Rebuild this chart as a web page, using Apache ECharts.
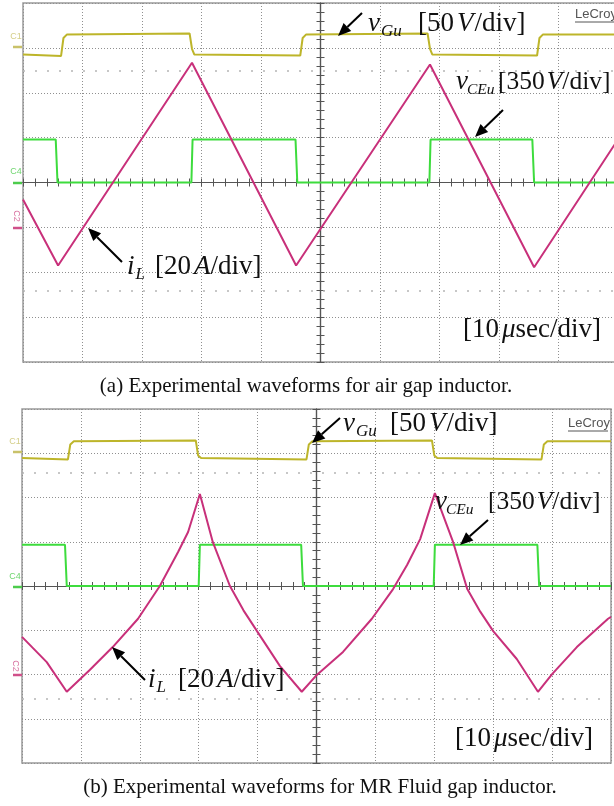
<!DOCTYPE html>
<html><head><meta charset="utf-8">
<script src="https://cdn.jsdelivr.net/npm/echarts@6/dist/echarts.min.js"></script>
<style>html,body{margin:0;padding:0;background:#fff}#c{width:614px;height:806px}</style>
</head><body><div id="c"></div>
<script>
// Time axis: microseconds relative to screen centre (10 µs/div); vertical: scope divisions.
const timeRange = [-50, 50];
const divRange = [-4, 4];

// Panel (a): air gap inductor
const vGuA = [[-50,2.85],[-43.6,2.82],[-43.2,3.22],[-42.6,3.30],[-22.0,3.32],[-21.6,2.98],[-21.2,2.85],[-3.4,2.83],[-3.0,3.22],[-2.4,3.30],[18.0,3.32],[18.4,2.98],[18.8,2.85],[36.4,2.83],[36.8,3.22],[37.4,3.30],[50,3.30]];
const vCEuA = [[-50,0.96],[-44.5,0.96],[-44.2,0],[-21.7,0],[-21.5,0.96],[-4.2,0.96],[-3.9,0],[18.3,0],[18.5,0.96],[35.6,0.96],[35.9,0],[50,0]];
const iLA = [[-50,-0.38],[-44.1,-1.85],[-21.6,2.67],[-4.1,-1.85],[18.4,2.63],[35.9,-1.89],[50,0.96]];

// Panel (b): MR fluid gap inductor
const vGuB = [[-50,2.89],[-42.2,2.86],[-41.8,3.20],[-41.2,3.27],[-20.5,3.29],[-20.1,2.95],[-19.6,2.89],[-1.7,2.86],[-1.3,3.20],[-0.7,3.27],[19.6,3.29],[20.0,2.95],[20.5,2.89],[38.2,2.86],[38.6,3.20],[39.2,3.27],[50,3.27]];
const vCEuB = [[-50,0.93],[-42.7,0.93],[-42.4,0],[-20.0,0],[-19.8,0.93],[-2.6,0.93],[-2.3,0],[19.9,0],[20.1,0.93],[37.5,0.93],[37.8,0],[50,0]];
const iLB = [[-50,-1.15],[-45.8,-1.72],[-42.4,-2.39],[-38.5,-1.90],[-34.6,-1.38],[-30.3,-0.74],[-26.6,0],[-23.5,0.77],[-21.8,1.22],[-19.8,2.08],[-17.6,0.99],[-14.7,0],[-12.4,-0.55],[-10.1,-1.02],[-6.2,-1.81],[-2.5,-2.39],[-0.1,-2.03],[4.5,-1.49],[9.4,-0.74],[13.0,-0.07],[15.4,0.48],[17.6,1.06],[20.1,2.10],[23.2,0.99],[25.6,-0.07],[27.8,-0.58],[30.0,-1.02],[34.0,-1.65],[37.6,-2.39],[40.0,-1.99],[44.2,-1.38],[49.5,-0.74],[50,-0.70]];

const captionA = '(a) Experimental waveforms for air gap inductor.';
const captionB = '(b) Experimental waveforms for MR Fluid gap inductor.';

const YEL = '#bdb52a', GRN = '#3ddc3d', PNK = '#c8307a';
const SERIF = '"Liberation Serif","Times New Roman",serif';

const chart = echarts.init(document.getElementById('c'), null, {renderer:'canvas'});

function axesFor(g) {
  const tick = {show:true, length:4, lineStyle:{color:'#555', width:1}};
  const minor = {show:true, splitNumber:5, length:4, lineStyle:{color:'#555', width:1}};
  const split = {show:true, lineStyle:{color:'#8f8f8f', width:1, type:[1,2]}};
  const line = {show:true, onZero:true, lineStyle:{color:'#555', width:1.2}};
  return {
    x: [
      {gridIndex:g, type:'value', min:timeRange[0], max:timeRange[1], interval:10, position:'bottom',
       axisLine:line, axisTick:tick, minorTick:minor, axisLabel:{show:false}, splitLine:split},
      {gridIndex:g, type:'value', min:timeRange[0], max:timeRange[1], interval:10, position:'top',
       axisLine:line, axisTick:tick, minorTick:minor, axisLabel:{show:false}, splitLine:{show:false}}
    ],
    y: [
      {gridIndex:g, type:'value', min:divRange[0], max:divRange[1], interval:1, position:'left',
       axisLine:line, axisTick:tick, minorTick:minor, axisLabel:{show:false}, splitLine:split},
      {gridIndex:g, type:'value', min:divRange[0], max:divRange[1], interval:1, position:'right',
       axisLine:line, axisTick:tick, minorTick:minor, axisLabel:{show:false}, splitLine:{show:false}}
    ]
  };
}
const ax0 = axesFor(0), ax1 = axesFor(1);

function trace(data, color, xi, yi, z, extra) {
  return Object.assign({type:'line', data:data, xAxisIndex:xi, yAxisIndex:yi, showSymbol:false, symbol:'none',
    lineStyle:{color:color, width:2}, itemStyle:{color:color}, z:z, animation:false, silent:true}, extra||{});
}
const dotRows = (vals) => ({silent:true, symbol:'none', label:{show:false},
  lineStyle:{color:'#b5b5b5', type:[2,10], width:1.5}, data: vals.map(v => ({yAxis:v}))});

// ---- text helpers ----
const mctx = document.createElement('canvas').getContext('2d');
function fstr(fs, it){ return (it ? 'italic ' : '') + fs + 'px ' + SERIF; }
function tw(t, f){ mctx.font = f; return mctx.measureText(t).width; }
function seq(x, base, parts) {
  const out = []; let cx = x;
  parts.forEach(p => {
    const t = p[0], it = p[1], fs = p[2], dy = p[3] || 0, dx = p[4] || 0;
    cx += dx;
    const f = fstr(fs, it);
    out.push({type:'text', x:cx, y:base + dy - 0.3*fs, z:100,
      style:{text:t, font:f, fill:'#111', textAlign:'left', textVerticalAlign:'middle'}});
    cx += tw(t, f);
  });
  return out;
}
function arrow(x1, y1, x2, y2) {
  const L = 13, H = 5.5;
  const dx = x2 - x1, dy = y2 - y1, d = Math.hypot(dx, dy), ux = dx/d, uy = dy/d;
  const bx = x2 - ux*L, by = y2 - uy*L;
  return [
    {type:'line', z:100, shape:{x1:x1, y1:y1, x2:bx, y2:by}, style:{stroke:'#000', lineWidth:2}},
    {type:'polygon', z:100, shape:{points:[[x2,y2],[bx - uy*H, by + ux*H],[bx + uy*H, by - ux*H]]}, style:{fill:'#000'}}
  ];
}
function lecroy(x, y) {
  return [
    {type:'text', x:x, y:y, z:100, style:{text:'LeCroy', font:'13px "Liberation Sans Narrow","Liberation Sans",sans-serif', fill:'#555', textAlign:'left', textVerticalAlign:'middle'}},
    {type:'line', z:100, shape:{x1:x, y1:y+8, x2:x+40, y2:y+8}, style:{stroke:'#555', lineWidth:1}}
  ];
}
function chMark(label, color, x, y, yLine, rot) {
  return [
    {type:'text', x:x, y:y, rotation:rot||0, z:100, style:{text:label, font:'9px "Liberation Sans Narrow","Liberation Sans",sans-serif', fill:color, textAlign:'center', textVerticalAlign:'middle', opacity:0.8}},
    {type:'line', z:100, shape:{x1:13, y1:yLine, x2:22, y2:yLine}, style:{stroke:color, lineWidth:2.5}}
  ];
}

const FS = 27, SUB = 17, SUBCE = 15.5, FS350 = 25.5;
let graphics = [];
// Panel (a) labels
graphics = graphics.concat(
  seq(368, 32, [['v',true,FS],['Gu',true,SUB,5,1]]),
  seq(418, 32, [['[50',false,FS],['V',true,FS,0,3],['/div]',false,FS,0,1]]),
  arrow(362, 13, 338, 36),
  seq(456, 90, [['v',true,FS],['CEu',true,SUBCE,5,-1]]),
  seq(498, 90, [['[350',false,FS350],['V',true,FS350,0,2],['/div]',false,FS350,0,0]]),
  arrow(503, 110, 475, 137),
  seq(127, 275, [['i',true,FS],['L',true,SUB,5,1]]),
  seq(155, 275, [['[20',false,FS],['A',true,FS,0,3],['/div]',false,FS,0,0]]),
  arrow(122, 262, 88, 228),
  seq(463, 338, [['[10',false,FS],['\u03bc',true,FS,0,3],['sec/div]',false,FS,0,0]]),
  lecroy(575, 14),
  chMark('C1', '#c9c26a', 16, 37, 47),
  chMark('C4', '#4ccc4c', 16, 172, 183),
  chMark('C2', '#d0508a', 16, 216, 228, -Math.PI/2)
);
// Panel (b) labels
graphics = graphics.concat(
  seq(343, 432, [['v',true,FS],['Gu',true,SUB,5,1]]),
  seq(390, 432, [['[50',false,FS],['V',true,FS,0,3],['/div]',false,FS,0,1]]),
  arrow(340, 418, 312, 443),
  seq(435, 510, [['v',true,FS],['CEu',true,SUBCE,5,-1]]),
  seq(488, 510, [['[350',false,FS350],['V',true,FS350,0,2],['/div]',false,FS350,0,0]]),
  arrow(488, 520, 460, 545),
  seq(148, 688, [['i',true,FS],['L',true,SUB,5,1]]),
  seq(178, 688, [['[20',false,FS],['A',true,FS,0,3],['/div]',false,FS,0,0]]),
  arrow(145, 680, 112, 647),
  seq(455, 747, [['[10',false,FS],['\u03bc',true,FS,0,3],['sec/div]',false,FS,0,0]]),
  lecroy(568, 423),
  chMark('C1', '#c9c26a', 15, 442, 452),
  chMark('C4', '#4ccc4c', 15, 577, 587),
  chMark('C2', '#d0508a', 15, 666, 675, -Math.PI/2)
);
// captions
graphics.push(
  {type:'text', x:306, y:393 - 0.3*21, z:100, style:{text:captionA, font:'21px ' + SERIF, fill:'#111', textAlign:'center', textVerticalAlign:'middle'}},
  {type:'text', x:320, y:794 - 0.3*21, z:100, style:{text:captionB, font:'21px ' + SERIF, fill:'#111', textAlign:'center', textVerticalAlign:'middle'}}
);

chart.setOption({
  animation:false,
  backgroundColor:'#fff',
  grid:[
    {left:23, top:3, width:595, height:359, show:true, borderColor:'#9a9a9a', borderWidth:1.5, backgroundColor:'transparent', outerBoundsMode:'none', containLabel:false},
    {left:22, top:409, width:589, height:354, show:true, borderColor:'#9a9a9a', borderWidth:1.5, backgroundColor:'transparent', outerBoundsMode:'none', containLabel:false}
  ],
  xAxis: ax0.x.concat(ax1.x),
  yAxis: ax0.y.concat(ax1.y),
  series:[
    trace(vCEuA, GRN, 0, 0, 3, {markLine: dotRows([2.5, -2.42])}),
    trace(vGuA, YEL, 0, 0, 4),
    trace(iLA, PNK, 0, 0, 5),
    trace(vCEuB, GRN, 2, 2, 3, {markLine: dotRows([2.55, -2.55])}),
    trace(vGuB, YEL, 2, 2, 4),
    trace(iLB, PNK, 2, 2, 5)
  ],
  graphic: graphics
});
</script>
</body></html>
